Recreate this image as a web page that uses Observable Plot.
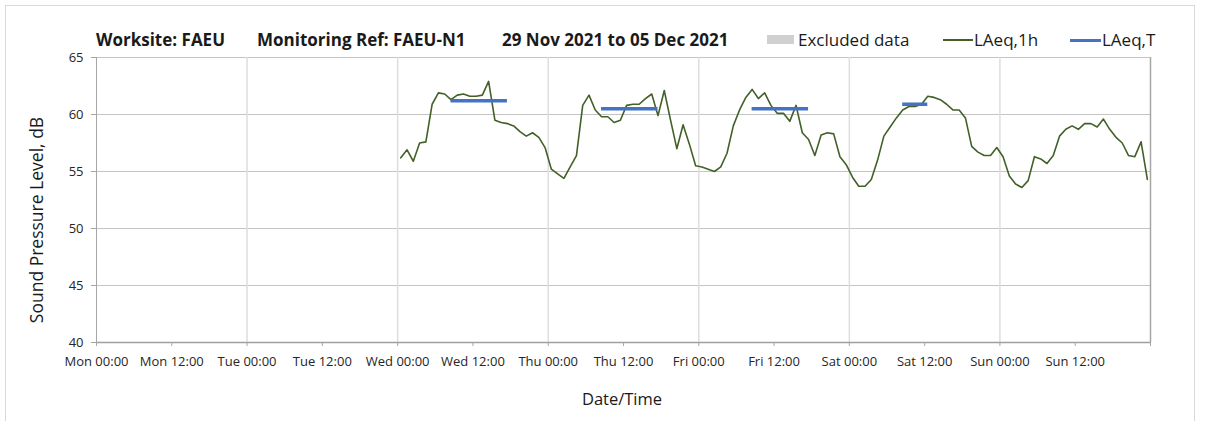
<!DOCTYPE html>
<html><head><meta charset="utf-8">
<script src="https://cdn.jsdelivr.net/npm/d3@7"></script>
<script src="https://cdn.jsdelivr.net/npm/@observablehq/plot@0.6"></script>
<style>
body{margin:0;background:#fff;}
#wrap{position:relative;width:1208px;height:421px;overflow:hidden;font-family:"Open Sans",sans-serif;color:#1a1a1a;}
#frame{position:absolute;left:5px;top:5px;width:1190px;height:440px;border:1px solid #d9d9d9;box-sizing:border-box;}
.t{position:absolute;white-space:nowrap;line-height:1;}
#wrap svg{position:absolute;left:0;top:0;}
</style></head><body><div id="wrap"><div id="frame"></div></div>
<script>
// ---- data ----
const dayNames = ["Wed", "Thu", "Fri", "Sat", "Sun"];
const dayStart = ["2021-12-01", "2021-12-02", "2021-12-03", "2021-12-04", "2021-12-05"];
// LAeq,1h values, hourly from 00:30 to 23:30
const wed = [56.2, 56.9, 55.9, 57.5, 57.6, 60.9, 61.9, 61.8, 61.3, 61.7, 61.8, 61.6, 61.6, 61.7, 62.9, 59.5, 59.3, 59.2, 59.0, 58.5, 58.1, 58.4, 58.0, 57.1];
const thu = [55.2, 54.8, 54.4, 55.4, 56.4, 60.8, 61.7, 60.4, 59.8, 59.8, 59.3, 59.5, 60.8, 60.9, 60.9, 61.4, 61.8, 59.9, 62.1, 59.5, 57.0, 59.1, 57.4, 55.5];
const fri = [55.4, 55.2, 55.0, 55.4, 56.6, 59.0, 60.4, 61.5, 62.2, 61.4, 61.9, 60.8, 60.1, 60.1, 59.4, 60.8, 58.4, 57.8, 56.4, 58.2, 58.4, 58.3, 56.3, 55.6];
const sat = [54.5, 53.7, 53.7, 54.3, 56.0, 58.1, 58.9, 59.7, 60.4, 60.7, 60.7, 60.9, 61.6, 61.5, 61.3, 60.9, 60.4, 60.4, 59.7, 57.2, 56.7, 56.4, 56.4, 57.1];
const sun = [56.3, 54.6, 53.9, 53.6, 54.2, 56.3, 56.1, 55.7, 56.4, 58.1, 58.7, 59.0, 58.7, 59.2, 59.2, 58.9, 59.6, 58.7, 58.0, 57.5, 56.4, 56.3, 57.6, 54.3];
// LAeq,T periods
const periodStart = ["2021-12-01T08:30Z", "2021-12-02T08:30Z", "2021-12-03T08:30Z", "2021-12-04T08:30Z"];
const periodEnd   = ["2021-12-01T17:30Z", "2021-12-02T17:30Z", "2021-12-03T17:30Z", "2021-12-04T12:30Z"];
const periodValue = [61.2, 60.5, 60.5, 60.9];
// axes
const xDomain = ["2021-11-29T00:00Z", "2021-12-06T00:00Z"];
const yTicks = [40, 45, 50, 55, 60, 65];

// ---- build ----
const series = [wed, thu, fri, sat, sun];
const hourly = series.flatMap((arr, d) => arr.map((v, h) => ({
  t: new Date(`${dayStart[d]}T${String(h).padStart(2, "0")}:30Z`), v
})));
const periods = periodValue.map((v, i) => ({s: new Date(periodStart[i]), e: new Date(periodEnd[i]), v}));
const x0 = new Date(xDomain[0]), x1 = new Date(xDomain[1]);
const xTicks = d3.utcHour.every(12).range(x0, new Date(+x1 + 1));
const dayLines = d3.utcDay.range(d3.utcDay.offset(x0, 1), x1);
const fmt = d3.utcFormat("%a %H:%M");

const chart = Plot.plot({
  width: 1208, height: 421,
  marginLeft: 96, marginRight: 58, marginTop: 57, marginBottom: 79,
  style: {fontFamily: "'Open Sans', sans-serif", fontSize: "13px", background: "transparent"},
  x: {type: "utc", domain: [x0, x1]},
  y: {domain: [40, 65]},
  marks: [
    Plot.ruleY(yTicks.slice(1), {stroke: "#c4c4c4", strokeWidth: 1}),
    Plot.ruleX(dayLines, {stroke: "#dedede", strokeWidth: 1.5}),
    Plot.ruleX([x0], {stroke: "#a6a6a6", strokeWidth: 1}),
    Plot.ruleX([x1], {stroke: "#a6a6a6", strokeWidth: 1.5}),
    Plot.ruleY([40], {stroke: "#a0a0a0", strokeWidth: 1.5}),
    Plot.axisY(yTicks, {tickSize: 5, tickPadding: 8, label: null, stroke: "#a6a6a6", fill: "#262626", fontSize: 13}),
    Plot.axisX(xTicks, {tickSize: 4, tickPadding: 10, label: null, stroke: "#a6a6a6", fill: "#262626", fontSize: 13,
      tickFormat: d => +d === +x1 ? "" : fmt(d)}),
    Plot.lineY(hourly, {x: "t", y: "v", stroke: "#426027", strokeWidth: 1.6}),
    Plot.ruleY(periods, {x1: "s", x2: "e", y: "v", stroke: "#4472c4", strokeWidth: 3.5})
  ]
});
const wrap = document.getElementById("wrap");
wrap.appendChild(chart);

function txt(s, css) {
  const el = document.createElement("div");
  el.className = "t"; el.textContent = s; el.style.cssText += css;
  wrap.appendChild(el); return el;
}
const titleCss = "font-weight:bold;font-size:17px;top:31px;";
txt("Worksite: FAEU", titleCss + "left:96px;");
txt("Monitoring Ref: FAEU-N1", titleCss + "left:257px;");
txt("29 Nov 2021 to 05 Dec 2021", titleCss + "left:502px;");
// legend
const sw = document.createElement("div");
sw.style.cssText = "position:absolute;left:767px;top:35px;width:27px;height:9px;background:#d0d0d0;";
wrap.appendChild(sw);
const legCss = "font-size:17px;top:31px;";
txt("Excluded data", legCss + "left:798px;");
const g = document.createElement("div");
g.style.cssText = "position:absolute;left:943px;top:39px;width:30px;height:1.5px;background:#426027;";
wrap.appendChild(g);
txt("LAeq,1h", legCss + "left:974px;");
const b = document.createElement("div");
b.style.cssText = "position:absolute;left:1070px;top:38.5px;width:31px;height:3px;background:#4472c4;";
wrap.appendChild(b);
txt("LAeq,T", legCss + "left:1102px;");
// axis titles
txt("Sound Pressure Level, dB", "font-size:17.5px;left:37px;top:220px;transform:translate(-50%,-50%) rotate(-90deg);");
txt("Date/Time", "font-size:16.5px;left:622px;top:399px;transform:translate(-50%,-50%);");
</script>
</body></html>
